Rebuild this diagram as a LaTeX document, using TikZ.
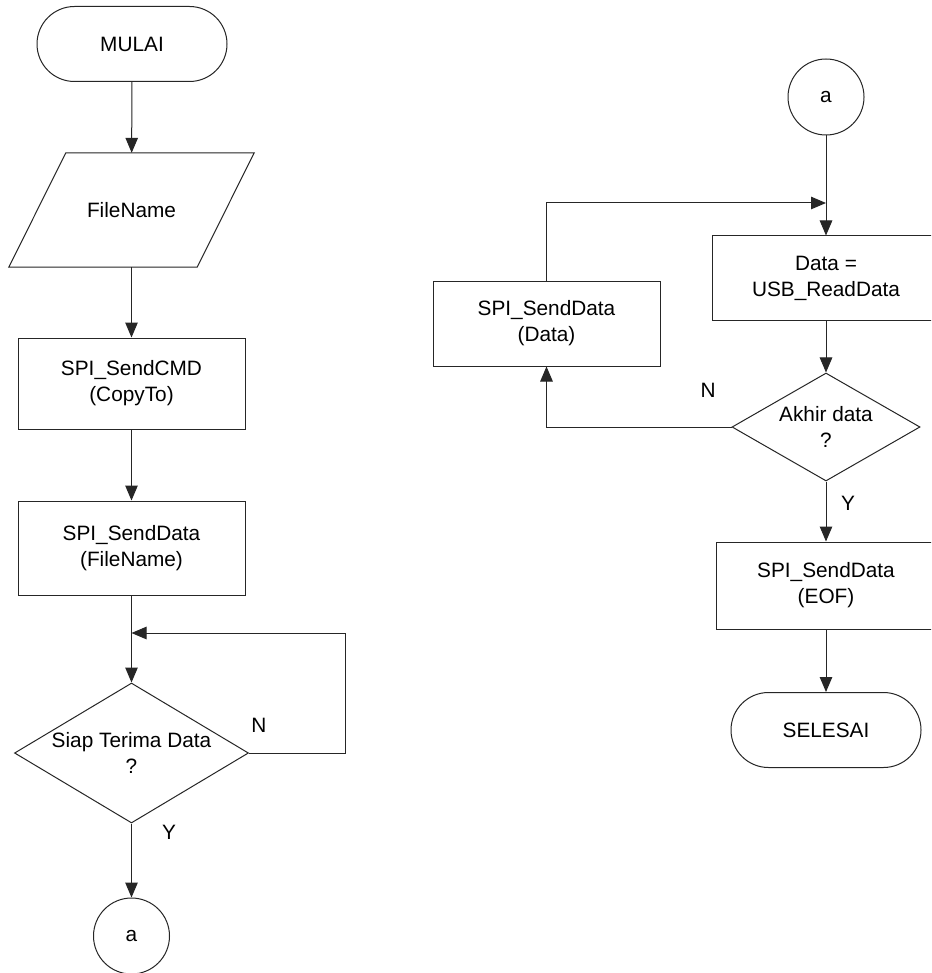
\documentclass[tikz,border=0pt]{standalone}
\usepackage{fontspec}
\setmainfont{Liberation Sans}
\usetikzlibrary{shapes.geometric,arrows.meta,calc}
\begin{document}
\begin{tikzpicture}[x=1pt,y=-1pt,
  every node/.style={font=\fontsize{20.8}{26}\selectfont, align=center, inner sep=0pt},
  line/.style={draw=black!85, line width=1pt},
  arr/.style={line, -{Triangle[length=15pt,width=12.5pt]}},
  proc/.style={line, rectangle},
  term/.style={line, rectangle, rounded corners=37.5pt, minimum width=190pt, minimum height=75pt},
  iobox/.style={rectangle, minimum width=188pt, minimum height=114pt},
  decision/.style={line, diamond},
  conn/.style={line, circle, minimum size=76pt},
  lbl/.style={inner sep=0pt}
]
\clip (0,0) rectangle (931,973);
\fill[white] (0,0) rectangle (931,973);

% left column
\node[term] (start) at (132,44) {MULAI};
\node[iobox] (fname) at (131.5,210) {FileName};
\draw[line] ($(fname.south west)+(-28.5pt,0)$) -- ($(fname.south east)+(-28.5pt,0)$)
  -- ($(fname.north east)+(28.5pt,0)$) -- ($(fname.north west)+(28.5pt,0)$) -- cycle;
\node[proc, minimum width=227pt, minimum height=91pt] (cmd) at (131.5,383.5) {SPI\_SendCMD\\(CopyTo)};
\node[proc, minimum width=227pt, minimum height=94pt] (sdf) at (131.5,548) {SPI\_SendData\\(FileName)};
\node[decision, minimum width=234pt, minimum height=140pt] (dec1) at (131.5,753)
  {\makebox[0pt]{Siap Terima Data}\\?};
\node[conn] (ca1) at (131.5,936) {a};

\coordinate (j1) at (131.5,633);
\coordinate (r1) at (345,633);

\draw[arr] (start) -- (fname);
\draw[arr] (fname) -- (cmd);
\draw[arr] (cmd) -- (sdf);
\draw[arr] (sdf) -- (dec1);
\draw[arr] (dec1.east) -| (r1) -- (j1);
\draw[arr] (dec1) -- (ca1);
\node[lbl] (n1) at (259,725) {N};
\node[lbl] (y1) at (169,832) {Y};

% right column
\node[conn] (ca2) at (826,97) {a};
\node[proc, minimum width=228pt, minimum height=84pt] (rd) at (826,278) {Data =\\USB\_ReadData};
\node[proc, minimum width=227pt, minimum height=85pt] (sdd) at (546.5,323.5) {SPI\_SendData\\(Data)};
\node[decision, minimum width=188pt, minimum height=108pt] (dec2) at (826,427)
  {\makebox[0pt]{Akhir data}\\?};
\node[proc, minimum width=220pt, minimum height=87pt] (eof) at (826,585.5) {SPI\_SendData\\(EOF)};
\node[term] (stop) at (826,730) {SELESAI};

\coordinate (j2) at (826,203);

\draw[arr] (ca2) -- (rd);
\draw[arr] (sdd.north) |- (j2);
\draw[arr] (rd) -- (dec2);
\draw[arr] (dec2.west) -| (sdd.south);
\draw[arr] (dec2) -- (eof);
\draw[arr] (eof) -- (stop);
\node[lbl] (n2) at (708,390) {N};
\node[lbl] (y2) at (848,503) {Y};
\end{tikzpicture}
\end{document}
